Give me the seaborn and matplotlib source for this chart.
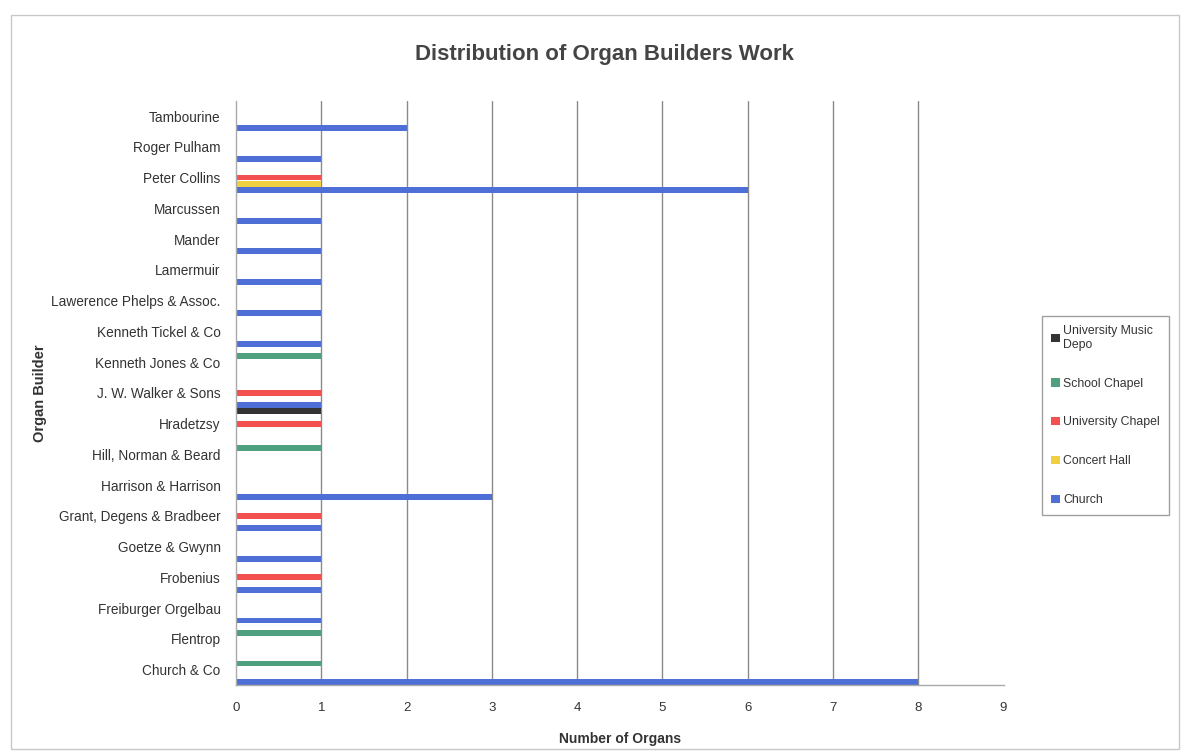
import pandas as pd
import matplotlib
matplotlib.use("Agg")
import matplotlib.pyplot as plt
import seaborn as sns
from matplotlib.patches import Rectangle

# organ builders, listed top to bottom as in the chart
builders = ["Tambourine", "Roger Pulham", "Peter Collins", "Marcussen", "Mander",
            "Lamermuir", "Lawerence Phelps & Assoc.", "Kenneth Tickel & Co",
            "Kenneth Jones & Co", "J. W. Walker & Sons", "Hradetzsy",
            "Hill, Norman & Beard", "Harrison & Harrison", "Grant, Degens & Bradbeer",
            "Goetze & Gwynn", "Frobenius", "Freiburger Orgelbau", "Flentrop",
            "Church & Co"]

music_depo = [0, 0, 0, 0, 0, 0, 0, 0, 0, 0, 1, 0, 0, 0, 0, 0, 0, 0, 0]
school_chapel = [0, 0, 0, 0, 0, 0, 0, 0, 1, 0, 0, 1, 0, 0, 0, 0, 0, 1, 1]
university_chapel = [0, 0, 1, 0, 0, 0, 0, 0, 0, 1, 1, 0, 0, 1, 0, 1, 0, 0, 0]
concert_hall = [0, 0, 1, 0, 0, 0, 0, 0, 0, 0, 0, 0, 0, 0, 0, 0, 0, 0, 0]
church = [2, 1, 6, 1, 1, 1, 1, 1, 0, 1, 0, 0, 3, 1, 1, 1, 1, 0, 8]

series = ["University Music Depo", "School Chapel", "University Chapel",
          "Concert Hall", "Church"]
legend_labels = ["University Music\nDepo", "School Chapel", "University Chapel",
                 "Concert Hall", "Church"]
colors = ["#333333", "#4fa07e", "#f2514f", "#f0d040", "#4e6fd6"]

values = [music_depo, school_chapel, university_chapel, concert_hall, church]
rows = []
for name, vals in zip(series, values):
    for b, v in zip(builders, vals):
        rows.append({"Organ Builder": b, "Venue": name, "Organs": v})
df = pd.DataFrame(rows)

sns.set_style("white")
plt.rcParams["font.family"] = ["Liberation Sans", "DejaVu Sans"]
txt = "#333333"

fig = plt.figure(figsize=(11.89, 7.54), dpi=100)
ax = fig.add_axes([0.1985, 0.0915, 0.6455, 0.775])

sns.barplot(data=df, y="Organ Builder", x="Organs", hue="Venue",
            order=builders, hue_order=series, palette=colors, saturation=1,
            orient="h", width=1.0, gap=0.05, linewidth=0, ax=ax)

ax.set_xlim(0, 9)
ax.set_ylim(len(builders) - 0.5, -0.5)
ax.set_xticks(range(10))
ax.tick_params(axis="x", length=0, labelsize=9.5, labelcolor=txt, pad=12)
ax.tick_params(axis="y", which="major", length=0, labelsize=9.8, labelcolor=txt, pad=11)
ax.set_yticks([i - 0.5 for i in range(len(builders) + 1)], minor=True)
ax.tick_params(axis="y", which="minor", length=4, color="#999999", direction="out")

for xv in range(1, 9):
    ax.axvline(xv, color="#8a8a8a", linewidth=1.0, zorder=0)

for side in ["top", "right"]:
    ax.spines[side].set_visible(False)
for side in ["left", "bottom"]:
    ax.spines[side].set_color("#aaaaaa")
    ax.spines[side].set_linewidth(1.0)

ax.set_xlabel("Number of Organs", fontsize=10, fontweight="bold", color=txt, labelpad=13)
ax.set_ylabel("Organ Builder", fontsize=10.5, fontweight="bold", color=txt)
ax.yaxis.set_label_coords(-0.246, 0.5)
fig.text(0.508, 0.928, "Distribution of Organ Builders Work", ha="center", va="center",
         fontsize=16, fontweight="bold", color="#444444")

handles, _ = ax.get_legend_handles_labels()
ax.legend(handles, legend_labels, loc="upper left", bbox_to_anchor=(1.0505, 0.632),
          frameon=True, fancybox=False, edgecolor="#888888", fontsize=8.8,
          handlelength=0.7, handleheight=0.7, handletextpad=0.25,
          labelspacing=2.2, borderpad=0.75, borderaxespad=0, labelcolor=txt)

fig.patches.append(Rectangle((0.009, 0.006), 0.983, 0.974, transform=fig.transFigure,
                             fill=False, edgecolor="#c8c8c8", linewidth=1.0))

fig.savefig("out.png", dpi=100)
